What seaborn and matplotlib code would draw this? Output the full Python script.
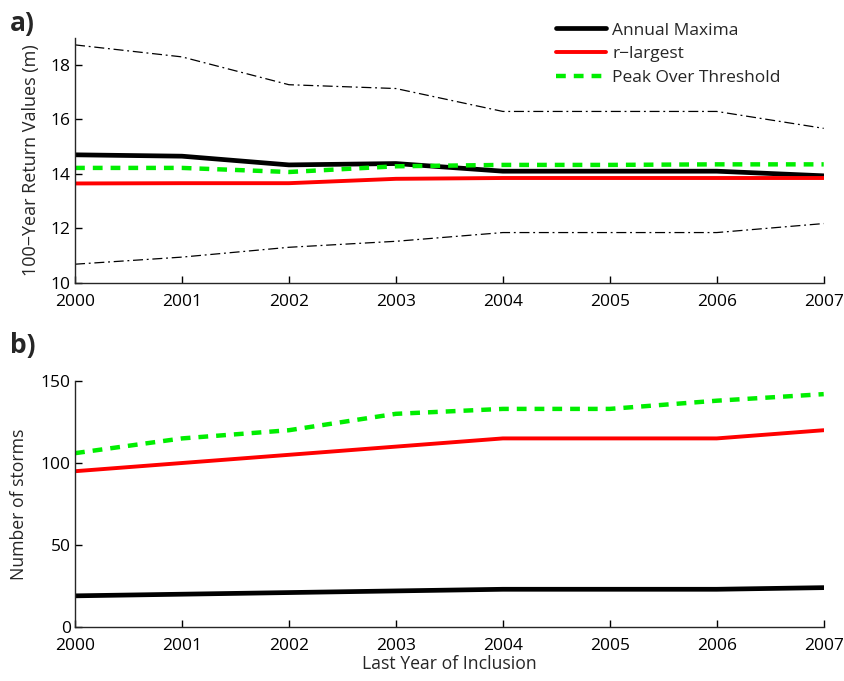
import matplotlib
matplotlib.use("Agg")
import matplotlib.pyplot as plt
import seaborn as sns
import pandas as pd

# Last year of inclusion in the record
years = [2000, 2001, 2002, 2003, 2004, 2005, 2006, 2007]

# 100-year return values (m)
rv_annual_max = [14.70, 14.65, 14.33, 14.38, 14.10, 14.10, 14.10, 13.93]
rv_r_largest = [13.65, 13.66, 13.66, 13.82, 13.85, 13.85, 13.85, 13.85]
rv_pot = [14.22, 14.22, 14.07, 14.28, 14.33, 14.33, 14.35, 14.35]
rv_upper = [18.73, 18.29, 17.27, 17.13, 16.29, 16.29, 16.29, 15.67]
rv_lower = [10.69, 10.95, 11.31, 11.53, 11.85, 11.85, 11.85, 12.18]

# Number of storms used by each method
n_annual_max = [19, 20, 21, 22, 23, 23, 23, 24]
n_r_largest = [95, 100, 105, 110, 115, 115, 115, 120]
n_pot = [106, 115, 120, 130, 133, 133, 138, 142]

methods = ["Annual Maxima", "r\u2212largest", "Peak Over Threshold"]
colors = {"Annual Maxima": "black", "r\u2212largest": "#ff0000",
          "Peak Over Threshold": "#00ee00"}
widths = {"Annual Maxima": 3.4, "r\u2212largest": 2.8, "Peak Over Threshold": 3.2}
dashes = {"Annual Maxima": "", "r\u2212largest": "", "Peak Over Threshold": (2.2, 1.8)}

sns.set_style("ticks")
plt.rcParams["font.family"] = ["Open Sans", "DejaVu Sans"]


def long_form(series):
    rows = []
    for name, vals in zip(methods, series):
        for y, v in zip(years, vals):
            rows.append({"year": y, "value": v, "method": name})
    return pd.DataFrame(rows)


rv_df = long_form([rv_annual_max, rv_r_largest, rv_pot])
n_df = long_form([n_annual_max, n_r_largest, n_pot])
bounds_df = pd.DataFrame({
    "year": years * 2,
    "value": rv_upper + rv_lower,
    "bound": ["upper"] * len(years) + ["lower"] * len(years),
})

fig = plt.figure(figsize=(8.45, 6.81), dpi=100)
ax1 = fig.add_axes([0.0888, 0.5844, 0.886, 0.3605])
ax2 = fig.add_axes([0.0888, 0.0793, 0.886, 0.3612])


def draw_methods(ax, df):
    for name in methods:
        sub = df[df["method"] == name]
        ls = "-" if dashes[name] == "" else (0, dashes[name])
        sns.lineplot(data=sub, x="year", y="value", ax=ax, color=colors[name],
                     lw=widths[name], linestyle=ls, label=name, legend=False)


# Panel a: return values with confidence bounds
for b in ["upper", "lower"]:
    sub = bounds_df[bounds_df["bound"] == b]
    sns.lineplot(data=sub, x="year", y="value", ax=ax1, color="black",
                 lw=0.9, linestyle=(0, (8, 3, 1.5, 3)), legend=False)
draw_methods(ax1, rv_df)

# Panel b: storm counts
draw_methods(ax2, n_df)

for ax in (ax1, ax2):
    ax.set_xlim(2000, 2007)
    ax.set_xticks(years)
    ax.set_xticklabels([str(y) for y in years])
    sns.despine(ax=ax)
    for s in ("left", "bottom"):
        ax.spines[s].set_linewidth(1.0)
    ax.tick_params(direction="in", length=5, width=1, labelsize=12.5,
                   colors="black")
    ax.tick_params(axis="x", pad=8)
    ax.tick_params(axis="y", pad=3)
    ax.grid(False)

ax1.set_ylim(10, 19)
ax1.set_yticks([10, 12, 14, 16, 18])
ax1.set_xlabel("")
ax1.set_ylabel("100\u2212Year Return Values (m)", fontsize=13)
ax1.yaxis.set_label_coords(-0.047, 0.5)

ax2.set_ylim(0, 150)
ax2.set_yticks([0, 50, 100, 150])
ax2.set_xlabel("Last Year of Inclusion", fontsize=12.7, labelpad=1)
ax2.set_ylabel("Number of storms", fontsize=12.7)
ax2.yaxis.set_label_coords(-0.063, 0.5)

handles, labels = ax1.get_legend_handles_labels()
keep = [(h, l) for h, l in zip(handles, labels) if l in methods]
ax1.legend([h for h, _ in keep], [l for _, l in keep], loc="upper left",
           bbox_to_anchor=(0.633, 1.09), frameon=False, fontsize=12.5,
           handlelength=2.9, handletextpad=0.35, labelspacing=0.45,
           borderaxespad=0)

fig.text(0.012, 0.965, "a)", fontsize=19, fontweight="bold", va="center")
fig.text(0.012, 0.493, "b)", fontsize=19, fontweight="bold", va="center")

fig.savefig("out.png", dpi=100)
